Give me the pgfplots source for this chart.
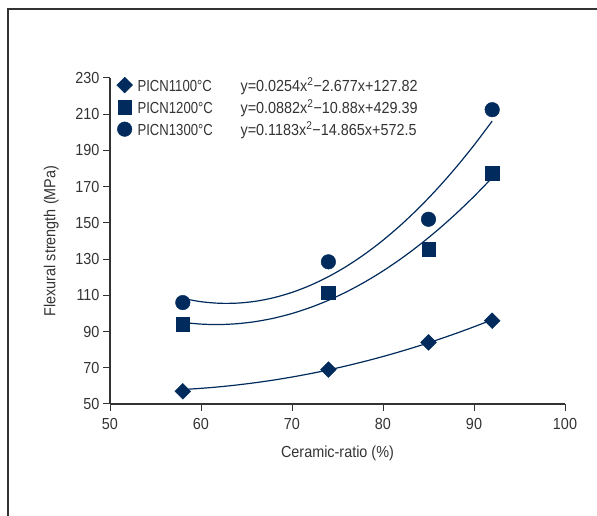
\documentclass[border=0pt]{standalone}
\usepackage{fontspec}
\setmainfont{Liberation Sans}[FakeStretch=0.9]
\newfontfamily\narrowfont{Liberation Sans}[FakeStretch=0.82]
\usepackage{pgfplots}
\pgfplotsset{compat=1.18}
\definecolor{navy}{RGB}{0,43,92}
\definecolor{txt}{RGB}{51,51,51}
\newcommand{\ff}{\fontsize{16bp}{19bp}\selectfont}
\begin{document}
\begin{tikzpicture}
\path[use as bounding box] (0,0) rectangle (597bp,516bp);
\draw[txt, line width=1.2bp] (8bp,0) -- (8bp,507bp) -- (597bp,507bp);
\begin{axis}[
  at={(110bp,112bp)}, anchor=south west,
  width=455bp, height=326bp, scale only axis,
  xmin=50, xmax=100, ymin=50, ymax=230,
  xtick={50,60,...,100}, ytick={50,70,...,230},
  axis lines=left, axis line style={txt, line width=1.1bp, -},
  tick style={txt, line width=1bp}, tick align=outside, major tick length=7bp,
  tick label style={font=\ff, text=txt},
  xticklabel style={yshift=-4bp},
  /pgf/number format/assume math mode=true,
  label style={font=\ff, text=txt},
  xlabel={Ceramic-ratio (\%)},
  ylabel={Flexural strength (MPa)},
  xlabel style={yshift=-9bp},
  ylabel style={yshift=10bp},
  legend style={at={(0.01,1.015)}, anchor=north west, draw=none, fill=none, font=\ff, text=txt, row sep=2.5bp, inner sep=2bp},
  legend cell align=left,
]
\addplot[only marks, mark=square*, mark size=5.6bp, mark options={rotate=45, fill=navy, draw=navy}] coordinates {(58,57) (74,69) (85,84) (92,96)};
\addlegendentry{\hspace{3bp}\makebox[103bp][l]{\narrowfont PICN1100°C}y=0.0254x\textsuperscript{2}−2.677x+127.82}
\addplot[only marks, mark=square*, mark size=6.8bp, mark options={fill=navy, draw=navy}] coordinates {(58,94) (74,111.5) (85,135.5) (92,177.5)};
\addlegendentry{\hspace{3bp}\makebox[103bp][l]{\narrowfont PICN1200°C}y=0.0882x\textsuperscript{2}−10.88x+429.39}
\addplot[only marks, mark=*, mark size=7.3bp, mark options={fill=navy, draw=navy}] coordinates {(58,106) (74,128.5) (85,152) (92,212.5)};
\addlegendentry{\hspace{3bp}\makebox[103bp][l]{\narrowfont PICN1300°C}y=0.1183x\textsuperscript{2}−14.865x+572.5}
\addplot[navy, line width=1.2bp, smooth, no marks, forget plot] coordinates {
(58,58.00) (60,58.64) (62,59.48) (64,60.53) (66,61.78) (68,63.23) (70,64.89) (72,66.75) (74,68.81) (76,71.08) (78,73.55) (80,76.22) (82,79.10) (84,82.17) (86,85.46) (88,88.94) (90,92.63) (92,96.52)};
\addplot[navy, line width=1.2bp, smooth, no marks, forget plot] coordinates {
(58,95.05) (60,94.11) (62,93.87) (64,94.34) (66,95.51) (68,97.39) (70,99.97) (72,103.26) (74,107.25) (76,111.95) (78,117.36) (80,123.47) (82,130.29) (84,137.81) (86,146.04) (88,154.97) (90,164.61) (92,174.95)};
\addplot[navy, line width=1.2bp, smooth, no marks, forget plot] coordinates {
(58,108.29) (60,106.48) (62,105.62) (64,105.70) (66,106.72) (68,108.70) (70,111.62) (72,115.49) (74,120.30) (76,126.06) (78,132.77) (80,140.42) (82,149.02) (84,158.56) (86,169.06) (88,180.50) (90,192.88) (92,206.21)};
\end{axis}
\end{tikzpicture}
\end{document}
